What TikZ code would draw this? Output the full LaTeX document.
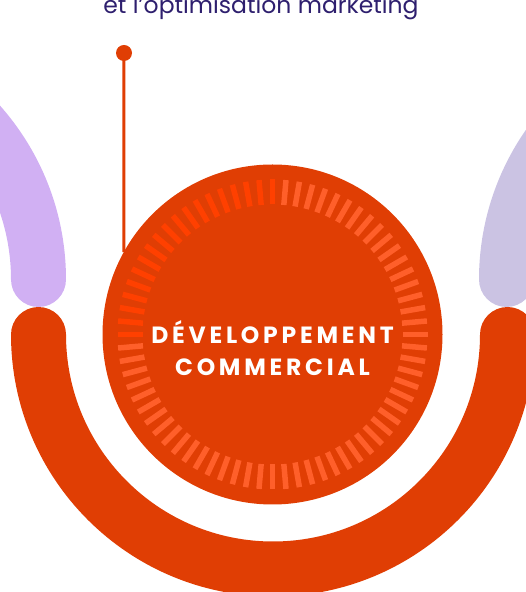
\documentclass[tikz,border=0pt]{standalone}
\usepackage{fontspec}
\setmainfont{Poppins}
\newfontfamily\titlefont[LetterSpace=16]{Poppins}
\usepackage{tikz}
\usetikzlibrary{calc}
\usetikzlibrary{positioning}
\definecolor{brick}{HTML}{E03E04}
\definecolor{tickhot}{HTML}{FF4000}
\definecolor{ticksoft}{HTML}{FF5F2A}
\definecolor{lilac}{HTML}{D1B0F3}
\definecolor{lavender}{HTML}{CBC3E3}
\definecolor{ink}{HTML}{2E1F6E}
\tikzstyle{hub} = [circle, fill=brick, minimum size=340pt, inner sep=0pt, outer sep=0pt]
\tikzstyle{band} = [line width=55pt, line cap=round]
\tikzstyle{notch} = [line width=5.5pt]
\tikzstyle{pindot} = [circle, fill=brick, minimum size=16pt, inner sep=0pt]
\tikzstyle{pinline} = [draw=brick, line width=3pt]

\begin{document}
\begin{tikzpicture}[x=1pt, y=1pt]
    \useasboundingbox (0,0) rectangle (526,592);
    \clip (0,0) rectangle (526,592);

    % neighbouring rings
    \draw[band, lilac] (38.5,312.5) arc[start angle=0, end angle=90, radius=234.5];
    \draw[band, lavender] (506.5,312.5) arc[start angle=180, end angle=90, radius=234.5];
    \draw[band, brick] (38.5,257.5) arc[start angle=180, end angle=360, radius=234.5];

    \node[pindot] (pin) at (124,539) {};
    \node[hub] (hub) at (272.5,257.5) {};
    \draw[pinline] (pin.center) -- (hub.151);

    \foreach \a in {90,95,...,180}
        \draw[notch, tickhot] ($(hub.center)+(\a:130)$) -- ($(hub.center)+(\a:155)$);
    \foreach \a in {185,190,...,445}
        \draw[notch, ticksoft] ($(hub.center)+(\a:130)$) -- ($(hub.center)+(\a:155)$);

    \node[font=\titlefont\bfseries\fontsize{23.5}{32}\selectfont, text=white, align=center] (title) at ([yshift=-14pt]hub.center) {DÉVELOPPEMENT\\COMMERCIAL};

    \node[anchor=base, font=\fontsize{23.5}{28}\selectfont, text=ink] (caption) at (261,578) {et l’optimisation marketing};
\end{tikzpicture}
\end{document}
